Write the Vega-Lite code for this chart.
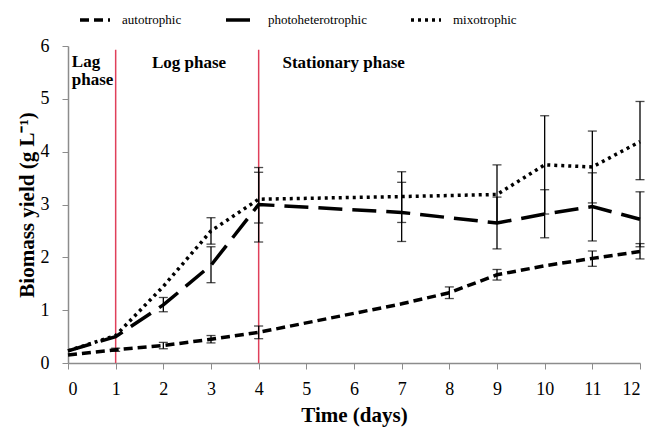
{
  "$schema": "https://vega.github.io/schema/vega-lite/v6.json",
  "autosize": {"type": "none"},
  "width": 572,
  "height": 317,
  "padding": {"left": 68, "right": 9, "top": 46, "bottom": 68},
  "background": "white",
  "config": {
    "view": {"stroke": null},
    "font": "Liberation Serif",
    "legend": {"labelFont": "Liberation Serif"}
  },
  "datasets": {
    "lines": [
      {"day": 0, "series": "autotrophic", "value": 0.15},
      {"day": 1, "series": "autotrophic", "value": 0.25},
      {"day": 2, "series": "autotrophic", "value": 0.33},
      {"day": 3, "series": "autotrophic", "value": 0.45},
      {"day": 4, "series": "autotrophic", "value": 0.58},
      {"day": 7, "series": "autotrophic", "value": 1.12},
      {"day": 8, "series": "autotrophic", "value": 1.33},
      {"day": 9, "series": "autotrophic", "value": 1.67},
      {"day": 10, "series": "autotrophic", "value": 1.84},
      {"day": 11, "series": "autotrophic", "value": 1.98},
      {"day": 12, "series": "autotrophic", "value": 2.11},
      {"day": 0, "series": "photoheterotrophic", "value": 0.23},
      {"day": 1, "series": "photoheterotrophic", "value": 0.5},
      {"day": 2, "series": "photoheterotrophic", "value": 1.1},
      {"day": 3, "series": "photoheterotrophic", "value": 1.85},
      {"day": 4, "series": "photoheterotrophic", "value": 3.0},
      {"day": 7, "series": "photoheterotrophic", "value": 2.85},
      {"day": 9, "series": "photoheterotrophic", "value": 2.65},
      {"day": 10, "series": "photoheterotrophic", "value": 2.82},
      {"day": 11, "series": "photoheterotrophic", "value": 2.96},
      {"day": 12, "series": "photoheterotrophic", "value": 2.72},
      {"day": 0, "series": "mixotrophic", "value": 0.23},
      {"day": 1, "series": "mixotrophic", "value": 0.52},
      {"day": 2, "series": "mixotrophic", "value": 1.45},
      {"day": 3, "series": "mixotrophic", "value": 2.5},
      {"day": 4, "series": "mixotrophic", "value": 3.1},
      {"day": 7, "series": "mixotrophic", "value": 3.15},
      {"day": 9, "series": "mixotrophic", "value": 3.19},
      {"day": 10, "series": "mixotrophic", "value": 3.75},
      {"day": 11, "series": "mixotrophic", "value": 3.71},
      {"day": 12, "series": "mixotrophic", "value": 4.19}
    ],
    "errors": [
      {"day": 1, "series": "autotrophic", "lo": 0.22, "hi": 0.28},
      {"day": 2, "series": "autotrophic", "lo": 0.27, "hi": 0.39},
      {"day": 3, "series": "autotrophic", "lo": 0.38, "hi": 0.52},
      {"day": 4, "series": "autotrophic", "lo": 0.46, "hi": 0.7},
      {"day": 8, "series": "autotrophic", "lo": 1.22, "hi": 1.44},
      {"day": 9, "series": "autotrophic", "lo": 1.57, "hi": 1.77},
      {"day": 11, "series": "autotrophic", "lo": 1.83, "hi": 2.12},
      {"day": 12, "series": "autotrophic", "lo": 1.97, "hi": 2.26},
      {"day": 2, "series": "photoheterotrophic", "lo": 0.97, "hi": 1.24},
      {"day": 3, "series": "photoheterotrophic", "lo": 1.52, "hi": 2.2},
      {"day": 4, "series": "photoheterotrophic", "lo": 2.29, "hi": 3.61},
      {"day": 7, "series": "photoheterotrophic", "lo": 2.3, "hi": 3.42},
      {"day": 9, "series": "photoheterotrophic", "lo": 2.16, "hi": 3.14},
      {"day": 10, "series": "photoheterotrophic", "lo": 2.37, "hi": 3.28},
      {"day": 11, "series": "photoheterotrophic", "lo": 2.31, "hi": 3.6},
      {"day": 12, "series": "photoheterotrophic", "lo": 2.2, "hi": 3.24},
      {"day": 3, "series": "mixotrophic", "lo": 2.25, "hi": 2.75},
      {"day": 4, "series": "mixotrophic", "lo": 2.65, "hi": 3.7},
      {"day": 7, "series": "mixotrophic", "lo": 2.66, "hi": 3.62},
      {"day": 9, "series": "mixotrophic", "lo": 2.65, "hi": 3.75},
      {"day": 10, "series": "mixotrophic", "lo": 2.82, "hi": 4.68},
      {"day": 11, "series": "mixotrophic", "lo": 3.03, "hi": 4.39},
      {"day": 12, "series": "mixotrophic", "lo": 3.47, "hi": 4.95}
    ],
    "phases": [
      {"day": 1, "bottom": 0, "top": 5.93},
      {"day": 4, "bottom": 0, "top": 5.93}
    ],
    "labels": [
      {"day": 0.08, "y": 5.6, "text": "Lag\nphase"},
      {"day": 1.76, "y": 5.58, "text": "Log phase"},
      {"day": 4.5, "y": 5.58, "text": "Stationary phase"}
    ]
  },
  "layer": [
    {
      "data": {"name": "phases"},
      "mark": {"type": "rule", "color": "#e0405a", "strokeWidth": 1.5},
      "encoding": {
        "x": {"field": "day", "type": "quantitative"},
        "y": {"field": "bottom", "type": "quantitative"},
        "y2": {"field": "top"}
      }
    },
    {
      "data": {"name": "errors"},
      "mark": {"type": "rule", "color": "black", "strokeWidth": 1.3},
      "encoding": {
        "x": {"field": "day", "type": "quantitative"},
        "y": {"field": "lo", "type": "quantitative"},
        "y2": {"field": "hi"}
      }
    },
    {
      "data": {"name": "errors"},
      "mark": {"type": "tick", "color": "black", "thickness": 1.3, "size": 9, "orient": "horizontal"},
      "encoding": {
        "x": {"field": "day", "type": "quantitative"},
        "y": {"field": "lo", "type": "quantitative"}
      }
    },
    {
      "data": {"name": "errors"},
      "mark": {"type": "tick", "color": "black", "thickness": 1.3, "size": 9, "orient": "horizontal"},
      "encoding": {
        "x": {"field": "day", "type": "quantitative"},
        "y": {"field": "hi", "type": "quantitative"}
      }
    },
    {
      "data": {"name": "lines"},
      "mark": {"type": "line", "color": "black", "strokeWidth": 3.5, "strokeCap": "butt"},
      "encoding": {
        "x": {"field": "day", "type": "quantitative", "title": "Time (days)", "scale": {"domain": [0, 12], "nice": false},
          "axis": {"values": [0, 1, 2, 3, 4, 5, 6, 7, 8, 9, 10, 11, 12], "format": "d", "grid": false, "domainColor": "#8c8c8c", "tickColor": "#8c8c8c", "domainWidth": 1.5, "tickSize": 6, "labelFont": "Liberation Serif", "labelFontSize": 18, "labelColor": "black", "labelPadding": 11, "titleFont": "Liberation Serif", "titleFontSize": 21, "titleFontWeight": "bold", "titleColor": "black", "titlePadding": 6}},
        "y": {"field": "value", "type": "quantitative", "title": "Biomass yield (g L⁻¹)", "scale": {"domain": [0, 6], "nice": false},
          "axis": {"values": [0, 1, 2, 3, 4, 5, 6], "format": "d", "grid": false, "domainColor": "#8c8c8c", "tickColor": "#8c8c8c", "domainWidth": 1.5, "tickSize": 6, "labelFont": "Liberation Serif", "labelFontSize": 18, "labelColor": "black", "labelPadding": 13, "titleFont": "Liberation Serif", "titleFontSize": 21, "titleFontWeight": "bold", "titleColor": "black", "titlePadding": 3}},
        "strokeDash": {
          "field": "series", "type": "nominal",
          "scale": {"domain": ["autotrophic", "photoheterotrophic", "mixotrophic"], "range": [[9, 5], [24, 10], [3, 4]]},
          "legend": {"title": null, "orient": "none", "legendX": 10, "legendY": -43, "direction": "horizontal", "labelFont": "Liberation Serif", "labelFontSize": 13, "labelColor": "black", "symbolType": "stroke", "symbolStrokeWidth": 3.5, "symbolStrokeColor": "black", "symbolSize": 900, "columnPadding": 37, "labelOffset": 10, "padding": 0}
        }
      }
    },
    {
      "data": {"name": "labels"},
      "mark": {"type": "text", "fontWeight": "bold", "fontSize": 17, "font": "Liberation Serif", "color": "black", "align": "left", "baseline": "alphabetic", "lineBreak": "\n", "lineHeight": 18},
      "encoding": {
        "x": {"field": "day", "type": "quantitative"},
        "y": {"field": "y", "type": "quantitative"},
        "text": {"field": "text"}
      }
    }
  ]
}
